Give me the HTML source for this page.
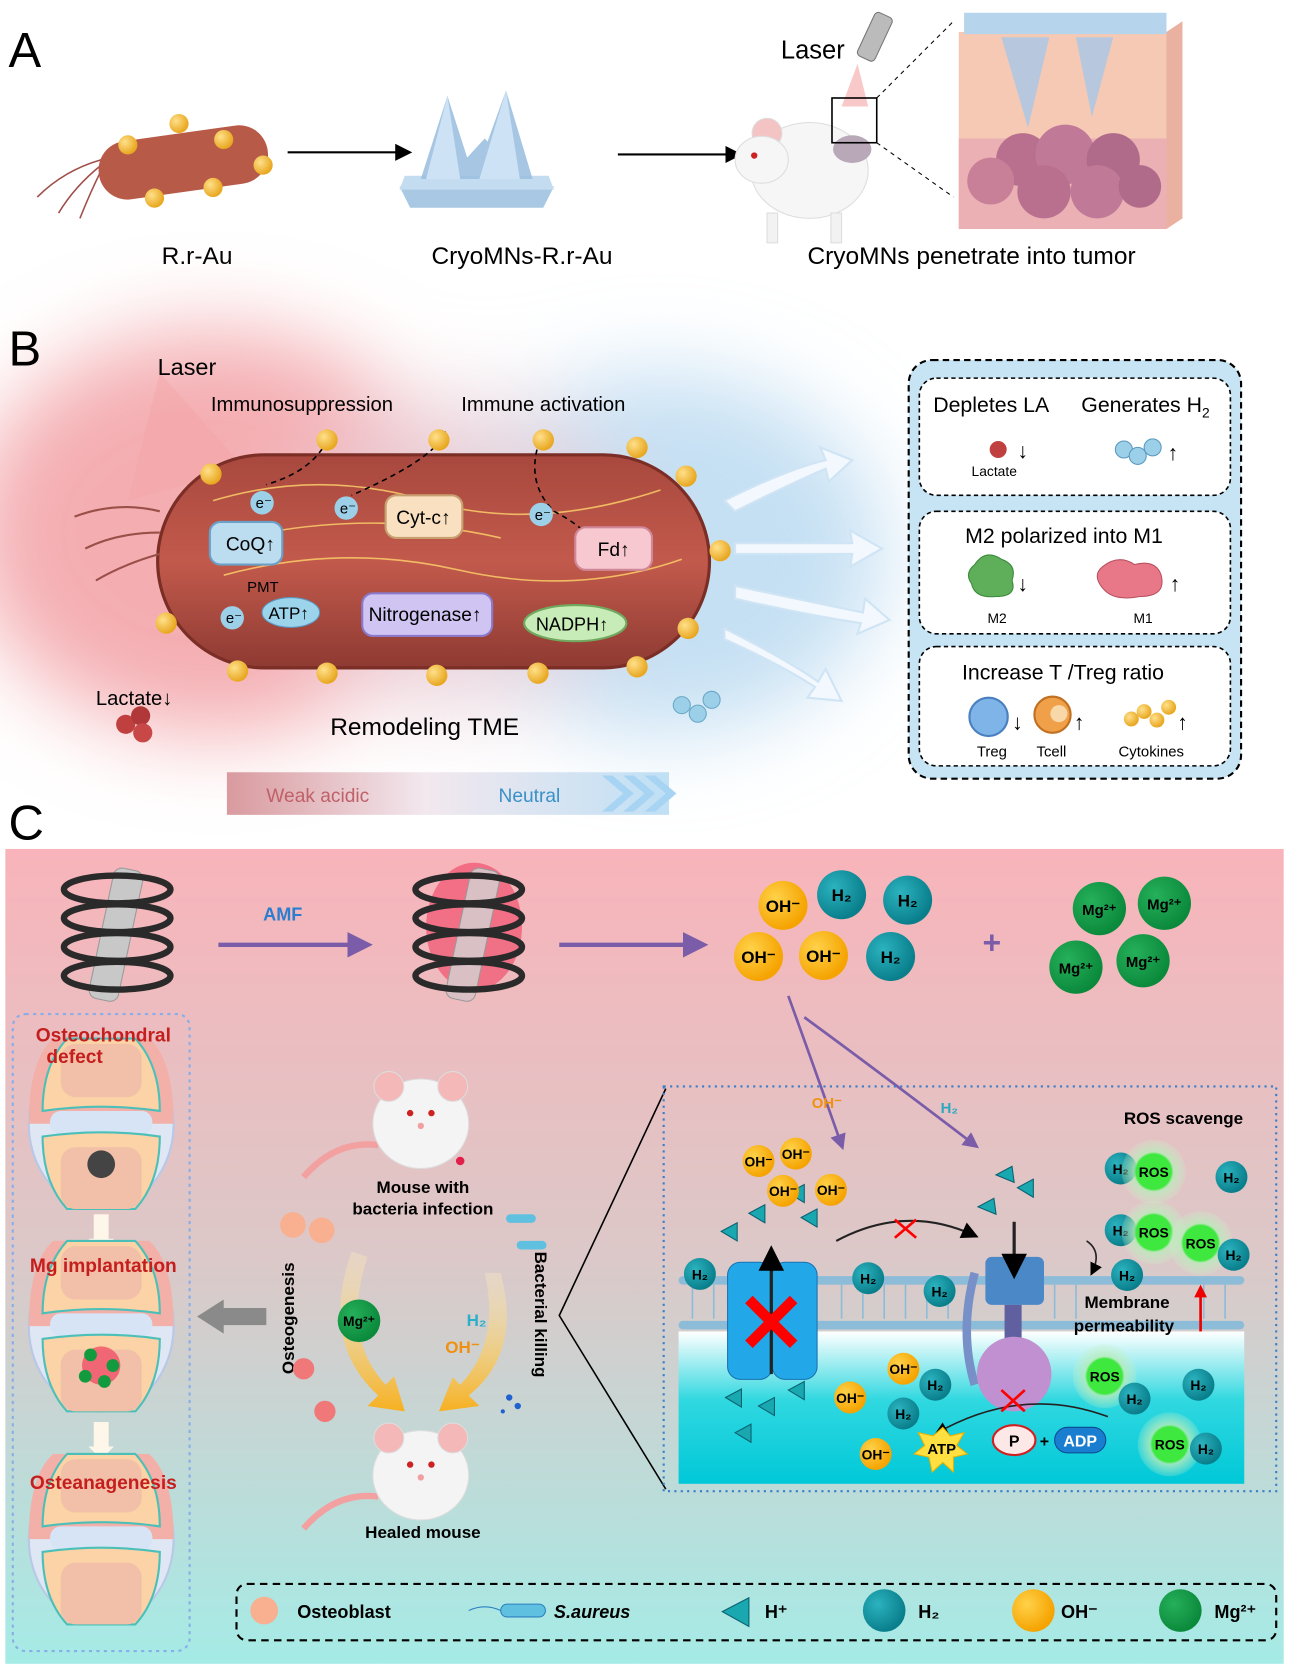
<!DOCTYPE html>
<html><head><meta charset="utf-8"><style>
html,body{margin:0;padding:0;background:#fff;}
svg{display:block;font-family:"Liberation Sans",Arial,sans-serif;}
</style></head><body>
<svg width="1289" height="1667" viewBox="0 0 1210 1565" preserveAspectRatio="none" xmlns="http://www.w3.org/2000/svg">
<defs>
<radialGradient id="gold" cx="35%" cy="35%" r="65%"><stop offset="0" stop-color="#ffe08a"/><stop offset="1" stop-color="#e8a720"/></radialGradient>
<radialGradient id="oh" cx="35%" cy="35%" r="65%"><stop offset="0" stop-color="#ffd24a"/><stop offset="1" stop-color="#f5a300"/></radialGradient>
<radialGradient id="h2" cx="35%" cy="35%" r="65%"><stop offset="0" stop-color="#2bb3bf"/><stop offset="1" stop-color="#0a7f8c"/></radialGradient>
<radialGradient id="mg" cx="35%" cy="35%" r="65%"><stop offset="0" stop-color="#26b05a"/><stop offset="1" stop-color="#0b8a3c"/></radialGradient>
<radialGradient id="ros" cx="50%" cy="50%" r="50%"><stop offset="0.55" stop-color="#3ee83e"/><stop offset="0.62" stop-color="#b8ecb8" stop-opacity="0.8"/><stop offset="1" stop-color="#c8f0c8" stop-opacity="0.2"/></radialGradient>
<linearGradient id="cbg" x1="0" y1="0" x2="0" y2="1"><stop offset="0" stop-color="#f8b4ba"/><stop offset="0.5" stop-color="#dcc8c8"/><stop offset="1" stop-color="#a5ebe6"/></linearGradient>
<filter id="blur" x="-50%" y="-50%" width="200%" height="200%"><feGaussianBlur stdDeviation="40"/></filter>
<linearGradient id="bact" x1="0" y1="0" x2="0" y2="1"><stop offset="0" stop-color="#a8483e"/><stop offset="0.5" stop-color="#c25a4c"/><stop offset="1" stop-color="#8e3a32"/></linearGradient>
<linearGradient id="bar" x1="0" y1="0" x2="1" y2="0"><stop offset="0" stop-color="#d99a9e"/><stop offset="0.45" stop-color="#f2e8ee"/><stop offset="1" stop-color="#bfe0f5"/></linearGradient>
<linearGradient id="cyto" x1="0" y1="0" x2="0" y2="1"><stop offset="0" stop-color="#ffffff"/><stop offset="0.45" stop-color="#30d8e0"/><stop offset="1" stop-color="#00c8d8"/></linearGradient>
<linearGradient id="yarr" x1="0" y1="0" x2="0" y2="1"><stop offset="0" stop-color="#fff0c0" stop-opacity="0.3"/><stop offset="1" stop-color="#f7b020"/></linearGradient>
<marker id="ah" markerWidth="8" markerHeight="8" refX="6" refY="4" orient="auto"><path d="M0,0L8,4L0,8z" fill="#000"/></marker>
<marker id="ahp" markerWidth="6" markerHeight="6" refX="4" refY="3" orient="auto"><path d="M0,0L6,3L0,6z" fill="#7a5ca8"/></marker>
<g id="joint">
 <ellipse cx="0" cy="0" rx="68" ry="80" fill="#dfe7f4" stroke="#b9c8e6" stroke-width="2"/>
 <path d="M-68,0 Q-68,-60 -45,-80 L45,-80 Q68,-60 68,0 Z" fill="#f3b0a8"/>
 <path d="M-55,-12 Q-55,-55 -32,-80 L32,-80 Q55,-55 55,-12 Q0,-20 -55,-12Z" fill="#fbd3a6" stroke="#4cc0b8" stroke-width="2"/>
 <rect x="-48" y="-12" width="96" height="22" rx="10" fill="#d6e4f6"/>
 <path d="M-55,12 Q0,4 55,12 Q55,55 32,80 L-32,80 Q-55,55 -55,12Z" fill="#fbd3a6" stroke="#4cc0b8" stroke-width="2"/>
 <rect x="-38" y="22" width="76" height="58" rx="14" fill="#f2c0a8"/>
 <rect x="-38" y="-75" width="76" height="50" rx="14" fill="#f2c0a8"/>
</g>
<g id="mouse">
 <path d="M-40,30 Q-80,25 -110,60" stroke="#f2a0a0" stroke-width="6" fill="none"/>
 <ellipse cx="0" cy="10" rx="45" ry="42" fill="#f4f4f4" stroke="#ddd"/>
 <circle cx="-30" cy="-25" r="14" fill="#f4b8b8" stroke="#ddd"/>
 <circle cx="30" cy="-25" r="14" fill="#f4b8b8" stroke="#ddd"/>
 <circle cx="-10" cy="0" r="3" fill="#c22"/><circle cx="10" cy="0" r="3" fill="#c22"/>
 <circle cx="0" cy="12" r="3" fill="#f0a0a0"/>
</g>
</defs>

<rect width="1210" height="1565" fill="#fff"/>

<!-- A -->
<text x="8" y="63" font-size="46">A</text>
<g>
 <path d="M95,150 Q60,160 35,185 M95,155 Q70,175 55,200 M95,160 Q85,180 75,205" stroke="#a0504a" stroke-width="1.5" fill="none"/>
 <rect x="92" y="125" width="160" height="55" rx="27" fill="#b85a48" transform="rotate(-8 172 152)"/>
 <circle cx="120" cy="136" r="9" fill="url(#gold)"/><circle cx="168" cy="116" r="9" fill="url(#gold)"/><circle cx="210" cy="131" r="9" fill="url(#gold)"/>
 <circle cx="247" cy="155" r="9" fill="url(#gold)"/><circle cx="200" cy="176" r="9" fill="url(#gold)"/><circle cx="145" cy="186" r="9" fill="url(#gold)"/>
</g>
<line x1="270" y1="143" x2="383" y2="143" stroke="#000" stroke-width="2" marker-end="url(#ah)"/>
<g>
 <path d="M375,175 L520,175 L510,195 L385,195 Z" fill="#a8c8e4"/>
 <path d="M380,165 L515,165 L520,178 L375,178 Z" fill="#c4dcf0"/>
 <path d="M395,168 L420,90 L445,168Z M445,168 L475,85 L500,168Z M455,130 L490,168 L420,168Z" fill="#9cc0e0" opacity="0.9"/>
 <path d="M400,168 L420,90 L432,168Z M450,168 L475,85 L488,168Z" fill="#cde2f4"/>
</g>
<line x1="580" y1="145" x2="693" y2="145" stroke="#000" stroke-width="2" marker-end="url(#ah)"/>
<text x="733" y="55" font-size="24">Laser</text>
<rect x="812" y="12" width="18" height="45" rx="4" fill="#bbb" stroke="#777" transform="rotate(25 821 35)"/>
<path d="M805,60 L790,100 L815,100Z" fill="#f6b0b0" opacity="0.7"/>
<g transform="translate(760,160)">
 <ellipse cx="0" cy="0" rx="55" ry="45" fill="#f6f6f6" stroke="#ddd"/>
 <circle cx="-40" cy="-35" r="14" fill="#f4c4c4" stroke="#ddd"/>
 <ellipse cx="-45" cy="-10" rx="25" ry="22" fill="#f6f6f6" stroke="#ddd"/>
 <circle cx="-52" cy="-14" r="3" fill="#c22"/>
 <rect x="-40" y="40" width="10" height="28" fill="#f2f2f2" stroke="#ddd"/>
 <rect x="20" y="40" width="10" height="28" fill="#f2f2f2" stroke="#ddd"/>
 <ellipse cx="40" cy="-20" rx="18" ry="13" fill="#b8a8b8"/>
</g>
<rect x="781" y="92" width="42" height="42" fill="none" stroke="#000" stroke-width="1.5"/>
<line x1="823" y1="92" x2="895" y2="20" stroke="#000" stroke-dasharray="4 4"/>
<line x1="823" y1="134" x2="895" y2="185" stroke="#000" stroke-dasharray="4 4"/>
<g>
 <rect x="900" y="30" width="195" height="185" fill="#f5c9b4"/>
 <path d="M1095,30 L1110,20 L1110,205 L1095,215Z" fill="#eab0a0"/>
 <rect x="905" y="12" width="190" height="20" fill="#b6d4ec"/>
 <rect x="900" y="130" width="195" height="85" fill="#eab0b4"/>
 <path d="M940,35 L965,120 L985,35Z M1010,35 L1025,110 L1045,35Z" fill="#a8c8e8" opacity="0.8"/>
 <circle cx="960" cy="150" r="25" fill="#b8708e"/><circle cx="1000" cy="145" r="28" fill="#c07a98"/><circle cx="1045" cy="150" r="25" fill="#b06a8a"/>
 <circle cx="930" cy="170" r="22" fill="#c88098"/><circle cx="980" cy="180" r="25" fill="#b8708e"/><circle cx="1030" cy="180" r="25" fill="#c07a98"/><circle cx="1070" cy="175" r="20" fill="#b06a8a"/>
</g>
<text x="185" y="248" font-size="23" text-anchor="middle">R.r-Au</text>
<text x="490" y="248" font-size="23" text-anchor="middle">CryoMNs-R.r-Au</text>
<text x="912" y="248" font-size="23" text-anchor="middle">CryoMNs penetrate into tumor</text>

<!-- B -->
<g filter="url(#blur)">
 <ellipse cx="620" cy="520" rx="210" ry="170" fill="#b6d8f0" opacity="0.8"/>
 <ellipse cx="200" cy="500" rx="230" ry="190" fill="#f2a0a4" opacity="0.85"/>
 <ellipse cx="430" cy="520" rx="160" ry="150" fill="#ead0d8" opacity="0.8"/>
</g>
<text x="8" y="343" font-size="46">B</text>
<path d="M150,350 L230,440 L120,470Z" fill="#f4a0a0" opacity="0.35"/>
<text x="148" y="352" font-size="22">Laser</text>
<text x="198" y="386" font-size="19">Immunosuppression</text>
<text x="433" y="386" font-size="19">Immune activation</text>
<rect x="148" y="427" width="518" height="200" rx="100" fill="url(#bact)" stroke="#7a2e26" stroke-width="3"/>
<path d="M200,470 Q300,440 400,470 T620,460 M210,540 Q320,510 430,535 T640,525 M250,500 Q360,480 470,505" stroke="#ffd36a" stroke-width="1.5" fill="none" opacity="0.8"/>
<path d="M150,480 Q110,470 70,485 M150,500 Q110,500 80,515 M150,520 Q115,530 90,545" stroke="#9a5048" stroke-width="2" fill="none"/>
<path d="M310,405 Q300,440 250,455 M418,405 Q410,430 330,465 M510,405 Q490,450 520,480 Q540,490 555,505" stroke="#000" stroke-width="1.5" stroke-dasharray="5 4" fill="none"/>
<g fill="url(#gold)">
<circle cx="198" cy="445" r="10"/><circle cx="307" cy="413" r="10"/><circle cx="412" cy="413" r="10"/><circle cx="510" cy="413" r="10"/><circle cx="598" cy="420" r="10"/><circle cx="644" cy="447" r="10"/><circle cx="676" cy="517" r="10"/><circle cx="156" cy="585" r="10"/><circle cx="223" cy="630" r="10"/><circle cx="307" cy="632" r="10"/><circle cx="410" cy="634" r="10"/><circle cx="505" cy="632" r="10"/><circle cx="598" cy="626" r="10"/><circle cx="646" cy="590" r="10"/>
</g>
<g font-size="14" fill="#000">
<circle cx="246" cy="472" r="11" fill="#9cd0e8"/><text x="240" y="477">e⁻</text>
<circle cx="325" cy="477" r="11" fill="#9cd0e8"/><text x="319" y="482">e⁻</text>
<circle cx="508" cy="483" r="11" fill="#9cd0e8"/><text x="502" y="488">e⁻</text>
<circle cx="218" cy="580" r="11" fill="#9cd0e8"/><text x="212" y="585">e⁻</text>
</g>
<rect x="197" y="490" width="68" height="40" rx="10" fill="#bcdcf0" stroke="#6aa0c8" stroke-width="2"/><text x="212" y="517" font-size="18">CoQ↑</text>
<rect x="362" y="465" width="72" height="40" rx="10" fill="#f8e0c0" stroke="#c8a070" stroke-width="2"/><text x="372" y="492" font-size="18">Cyt-c↑</text>
<rect x="540" y="495" width="72" height="40" rx="10" fill="#f8c8d0" stroke="#d08898" stroke-width="2"/><text x="561" y="522" font-size="18">Fd↑</text>
<text x="232" y="556" font-size="14">PMT</text>
<ellipse cx="273" cy="575" rx="27" ry="14" fill="#9cd4ec" stroke="#5a98c0"/><text x="252" y="581" font-size="16">ATP↑</text>
<rect x="340" y="557" width="122" height="40" rx="10" fill="#d0c4f2" stroke="#8a78c8" stroke-width="2"/><text x="346" y="583" font-size="18">Nitrogenase↑</text>
<ellipse cx="540" cy="585" rx="48" ry="17" fill="#c8ecb8" stroke="#70a860" stroke-width="2"/><text x="503" y="592" font-size="17">NADPH↑</text>
<text x="90" y="662" font-size="19">Lactate↓</text>
<circle cx="118" cy="680" r="9" fill="#c04040"/><circle cx="132" cy="672" r="9" fill="#b03838"/><circle cx="134" cy="688" r="9" fill="#c84848"/>
<text x="310" y="690" font-size="23">Remodeling TME</text>
<g fill="#9cd0e8" stroke="#6aa8c8"><circle cx="640" cy="662" r="8"/><circle cx="655" cy="670" r="8"/><circle cx="668" cy="657" r="8"/></g>
<g fill="#f2f8fd" stroke="#cfe4f4" stroke-width="2">
<path d="M680,470 Q740,440 775,432 L770,420 L800,432 L778,452 L775,440 Q740,455 690,480Z"/>
<path d="M690,510 L800,510 L798,498 L828,515 L798,532 L800,520 L690,520Z"/>
<path d="M690,550 Q760,565 810,575 L812,562 L835,582 L805,595 L808,585 Q760,578 690,562Z"/>
<path d="M680,590 Q740,620 768,640 L775,628 L790,658 L758,655 L765,645 Q735,625 680,600Z"/>
</g>
<rect x="213" y="725" width="415" height="40" fill="url(#bar)"/>
<text x="250" y="753" font-size="18" fill="#c06068">Weak acidic</text>
<text x="468" y="753" font-size="18" fill="#3a90c8">Neutral</text>
<path d="M565,728 L585,745 L565,762 L575,762 L595,745 L575,728Z M585,728 L605,745 L585,762 L595,762 L615,745 L595,728Z M605,728 L625,745 L605,762 L615,762 L635,745 L615,728Z" fill="#a8d4f4"/>

<rect x="853" y="338" width="312" height="393" rx="22" fill="#c6e4f4" stroke="#000" stroke-width="2" stroke-dasharray="6 4"/>
<rect x="863" y="355" width="292" height="110" rx="16" fill="#fff" stroke="#000" stroke-width="1.5" stroke-dasharray="4 3"/>
<rect x="863" y="480" width="292" height="115" rx="16" fill="#fff" stroke="#000" stroke-width="1.5" stroke-dasharray="4 3"/>
<rect x="863" y="607" width="292" height="112" rx="16" fill="#fff" stroke="#000" stroke-width="1.5" stroke-dasharray="4 3"/>
<text x="876" y="387" font-size="20">Depletes LA</text>
<text x="1015" y="387" font-size="20">Generates H<tspan font-size="13" dy="5">2</tspan></text>
<circle cx="937" cy="422" r="8" fill="#c04040"/><text x="955" y="430" font-size="20">↓</text>
<text x="912" y="447" font-size="13">Lactate</text>
<g fill="#9cd0e8" stroke="#5a98c0"><circle cx="1055" cy="422" r="8"/><circle cx="1068" cy="428" r="8"/><circle cx="1082" cy="420" r="8"/></g>
<text x="1096" y="432" font-size="20">↑</text>
<text x="906" y="510" font-size="20">M2 polarized into M1</text>
<path d="M915,530 Q925,515 940,525 Q955,530 950,545 Q955,560 935,560 Q915,562 912,548 Q905,538 915,530Z" fill="#5fae5a" stroke="#3a8a38"/>
<text x="955" y="555" font-size="20">↓</text><text x="927" y="585" font-size="13">M2</text>
<path d="M1035,532 Q1050,520 1065,530 Q1085,525 1090,540 Q1095,560 1070,560 Q1045,565 1035,552 Q1025,540 1035,532Z" fill="#e87888" stroke="#b85060"/>
<text x="1098" y="555" font-size="20">↑</text><text x="1064" y="585" font-size="13">M1</text>
<text x="903" y="638" font-size="20">Increase T /Treg ratio</text>
<circle cx="928" cy="673" r="18" fill="#7eb4e8" stroke="#4a80c0" stroke-width="2"/><text x="950" y="685" font-size="20">↓</text>
<circle cx="988" cy="671" r="17" fill="#f0a048" stroke="#c07020" stroke-width="2"/><circle cx="994" cy="670" r="8" fill="#f8d8a8"/><text x="1008" y="685" font-size="20">↑</text>
<g fill="url(#gold)"><circle cx="1062" cy="675" r="7"/><circle cx="1074" cy="668" r="7"/><circle cx="1086" cy="676" r="7"/><circle cx="1097" cy="664" r="7"/></g>
<text x="1105" y="685" font-size="20">↑</text>
<text x="917" y="710" font-size="14">Treg</text><text x="973" y="710" font-size="14">Tcell</text><text x="1050" y="710" font-size="14">Cytokines</text>

<!-- C -->
<text x="8" y="788" font-size="46">C</text>
<rect x="5" y="797" width="1200" height="765" fill="url(#cbg)"/>
<g>
<rect x="95" y="815" width="28" height="125" rx="8" fill="#c8c8c8" stroke="#999" transform="rotate(12 109 877)"/>
<g fill="none" stroke="#2a2a2a" stroke-width="6">
<ellipse cx="110" cy="835" rx="50" ry="13"/><ellipse cx="110" cy="862" rx="50" ry="13"/><ellipse cx="110" cy="889" rx="50" ry="13"/><ellipse cx="110" cy="916" rx="50" ry="13"/>
</g>
</g>
<line x1="205" y1="887" x2="342" y2="887" stroke="#7a5ca8" stroke-width="4" marker-end="url(#ahp)"/>
<text x="247" y="864" font-size="17" fill="#2a7ed0" font-weight="bold">AMF</text>
<g>
<ellipse cx="445" cy="870" rx="45" ry="60" fill="#f04060" opacity="0.6"/>
<rect x="430" y="815" width="28" height="125" rx="8" fill="#d8c0c4" stroke="#999" transform="rotate(12 444 877)"/>
<g fill="none" stroke="#2a2a2a" stroke-width="6">
<ellipse cx="440" cy="835" rx="50" ry="13"/><ellipse cx="440" cy="862" rx="50" ry="13"/><ellipse cx="440" cy="889" rx="50" ry="13"/><ellipse cx="440" cy="916" rx="50" ry="13"/>
</g>
</g>
<line x1="525" y1="887" x2="657" y2="887" stroke="#7a5ca8" stroke-width="4" marker-end="url(#ahp)"/>
<g font-size="16" font-weight="bold" text-anchor="middle">
<circle cx="735" cy="850" r="23" fill="url(#oh)"/><text x="735" y="856">OH⁻</text>
<circle cx="712" cy="898" r="23" fill="url(#oh)"/><text x="712" y="904">OH⁻</text>
<circle cx="773" cy="897" r="23" fill="url(#oh)"/><text x="773" y="903">OH⁻</text>
<circle cx="790" cy="840" r="23" fill="url(#h2)"/><text x="790" y="846">H₂</text>
<circle cx="852" cy="845" r="23" fill="url(#h2)"/><text x="852" y="851">H₂</text>
<circle cx="836" cy="898" r="23" fill="url(#h2)"/><text x="836" y="904">H₂</text>
<text x="931" y="895" font-size="30" fill="#7a5ca8">+</text>
<g font-size="14">
<circle cx="1032" cy="853" r="25" fill="url(#mg)"/><text x="1032" y="859">Mg²⁺</text>
<circle cx="1093" cy="848" r="25" fill="url(#mg)"/><text x="1093" y="854">Mg²⁺</text>
<circle cx="1010" cy="908" r="25" fill="url(#mg)"/><text x="1010" y="914">Mg²⁺</text>
<circle cx="1073" cy="902" r="25" fill="url(#mg)"/><text x="1073" y="908">Mg²⁺</text>
</g>
</g>
<path d="M740,935 Q760,990 790,1075" stroke="#7a5ca8" stroke-width="2.5" fill="none" marker-end="url(#ahp)"/>
<path d="M755,955 Q830,1010 915,1075" stroke="#7a5ca8" stroke-width="2.5" fill="none" marker-end="url(#ahp)"/>
<text x="762" y="1040" font-size="14" fill="#f09010" font-weight="bold">OH⁻</text>
<text x="883" y="1045" font-size="14" fill="#2aa8c0" font-weight="bold">H₂</text>

<rect x="12" y="952" width="166" height="598" rx="12" fill="none" stroke="#88aee8" stroke-width="2" stroke-dasharray="3 4"/>
<use href="#joint" x="95" y="1055"/>
<circle cx="95" cy="1093" r="13" fill="#444"/>
<rect x="88" y="1140" width="14" height="25" fill="#fff6ea"/><path d="M83,1163 L107,1163 L95,1175Z" fill="#fff6ea"/>
<use href="#joint" x="95" y="1245"/>
<circle cx="95" cy="1282" r="18" fill="#f04060" opacity="0.7"/>
<g fill="#129a3e"><circle cx="85" cy="1272" r="6"/><circle cx="106" cy="1282" r="6"/><circle cx="80" cy="1292" r="6"/><circle cx="98" cy="1297" r="6"/></g>
<rect x="88" y="1335" width="14" height="25" fill="#fff6ea"/><path d="M83,1358 L107,1358 L95,1370Z" fill="#fff6ea"/>
<use href="#joint" x="95" y="1445"/>
<g font-size="18" font-weight="bold" fill="#c41e1e" text-anchor="middle">
<text x="97" y="978">Osteochondral</text><text x="70" y="998">defect</text>
<text x="97" y="1194">Mg implantation</text>
<text x="97" y="1398">Osteanagenesis</text>
</g>
<path d="M250,1228 L210,1228 L210,1220 L185,1236 L210,1252 L210,1244 L250,1244Z" fill="#8a8a8a"/>
<use href="#mouse" x="395" y="1045"/>
<circle cx="432" cy="1090" r="4" fill="#e0204a"/>
<text x="397" y="1120" font-size="16" font-weight="bold" text-anchor="middle">Mouse with</text>
<text x="397" y="1140" font-size="16" font-weight="bold" text-anchor="middle">bacteria infection</text>
<use href="#mouse" x="395" y="1375"/>
<text x="397" y="1444" font-size="16" font-weight="bold" text-anchor="middle">Healed mouse</text>
<path d="M330,1175 Q300,1260 355,1310 L345,1320 L380,1325 L370,1292 L362,1300 Q320,1255 345,1180Z" fill="url(#yarr)"/>
<path d="M470,1195 Q490,1270 440,1310 L450,1320 L412,1325 L425,1293 L432,1300 Q470,1260 455,1195Z" fill="url(#yarr)"/>
<circle cx="337" cy="1240" r="20" fill="url(#mg)"/><text x="337" y="1245" font-size="13" font-weight="bold" text-anchor="middle">Mg²⁺</text>
<text x="438" y="1245" font-size="16" font-weight="bold" fill="#2ab0c8">H₂</text>
<text x="418" y="1270" font-size="16" font-weight="bold" fill="#f09010">OH⁻</text>
<text transform="translate(276,1290) rotate(-90)" font-size="16" font-weight="bold">Osteogenesis</text>
<text transform="translate(502,1175) rotate(90)" font-size="16" font-weight="bold">Bacterial killing</text>
<circle cx="275" cy="1150" r="12" fill="#f8b090"/><circle cx="302" cy="1155" r="12" fill="#f8b090"/>
<circle cx="285" cy="1285" r="10" fill="#f07878"/><circle cx="305" cy="1325" r="10" fill="#f07878"/>
<rect x="475" y="1140" width="28" height="8" rx="4" fill="#60c0e0"/><rect x="485" y="1165" width="28" height="8" rx="4" fill="#60c0e0"/>
<g fill="#2060d0"><circle cx="478" cy="1312" r="3"/><circle cx="486" cy="1320" r="3"/><circle cx="472" cy="1325" r="2"/></g>
<polyline points="625,1022 525,1235 625,1398" fill="none" stroke="#000" stroke-width="1.5"/>
<rect x="637" y="1250" width="531" height="143" fill="url(#cyto)"/>
<g fill="#8cbcd8"><rect x="637" y="1198" width="531" height="8" rx="4"/><rect x="637" y="1240" width="531" height="8" rx="4"/></g>
<g stroke="#8cbcd8" stroke-width="1.5"><path d="M650,1206 V1238 M670,1206 V1238 M690,1206 V1238 M790,1206 V1238 M810,1206 V1238 M830,1206 V1238 M850,1206 V1238 M870,1206 V1238 M890,1206 V1238 M990,1206 V1238 M1010,1206 V1238 M1130,1206 V1238 M1150,1206 V1238"/></g>
<rect x="623" y="1020" width="575" height="380" fill="none" stroke="#3a7ec8" stroke-width="2" stroke-dasharray="2 4"/>
<text x="1055" y="1055" font-size="16" font-weight="bold">ROS scavenge</text>
<rect x="683" y="1185" width="42" height="110" rx="12" fill="#22a8e8" stroke="#1a70b0"/>
<rect x="725" y="1185" width="42" height="110" rx="12" fill="#22a8e8" stroke="#1a70b0"/>
<line x1="724" y1="1290" x2="724" y2="1175" stroke="#222" stroke-width="3" marker-end="url(#ah)"/>
<path d="M703,1220 L745,1262 M745,1220 L703,1262" stroke="#f00" stroke-width="10"/>
<path d="M785,1165 Q850,1130 915,1160" stroke="#222" stroke-width="2" fill="none" marker-end="url(#ah)"/>
<path d="M840,1145 L860,1162 M860,1145 L840,1162" stroke="#f00" stroke-width="2.5"/>
<rect x="925" y="1180" width="55" height="45" rx="6" fill="#4a88c8"/>
<rect x="943" y="1225" width="16" height="35" fill="#6060a0"/>
<path d="M915,1195 Q900,1250 915,1300" stroke="#7890c8" stroke-width="8" fill="none"/>
<ellipse cx="952" cy="1290" rx="35" ry="35" fill="#c090d0"/>
<line x1="952" y1="1147" x2="952" y2="1195" stroke="#222" stroke-width="3" marker-end="url(#ah)"/>
<path d="M1040,1330 Q960,1300 880,1345" stroke="#222" stroke-width="1.5" fill="none" marker-end="url(#ah)"/>
<path d="M940,1305 L962,1325 M962,1305 L940,1325" stroke="#f00" stroke-width="2.5"/>
<path d="M1020,1165 Q1035,1175 1025,1195" stroke="#222" stroke-width="1.5" fill="none" marker-end="url(#ah)"/>
<polygon points="885,1340 892,1348 905,1345 898,1357 908,1365 895,1368 895,1382 885,1373 875,1382 872,1368 858,1365 868,1357 862,1345 876,1348" fill="#ffe040" stroke="#e8b000"/>
<text x="884" y="1365" font-size="14" font-weight="bold" text-anchor="middle">ATP</text>
<ellipse cx="952" cy="1352" rx="20" ry="14" fill="#fde8e8" stroke="#d02020" stroke-width="2"/><text x="952" y="1358" font-size="15" font-weight="bold" text-anchor="middle">P</text>
<text x="976" y="1358" font-size="15" font-weight="bold">+</text>
<rect x="990" y="1340" width="48" height="24" rx="12" fill="#1a7ed0" stroke="#0a4a90"/><text x="1014" y="1358" font-size="15" font-weight="bold" fill="#fff" text-anchor="middle">ADP</text>
<text x="1018" y="1228" font-size="16" font-weight="bold">Membrane</text>
<text x="1008" y="1250" font-size="16" font-weight="bold">permeability</text>
<line x1="1127" y1="1250" x2="1127" y2="1215" stroke="#e00" stroke-width="2.5"/><path d="M1121,1218 L1127,1206 L1133,1218Z" fill="#e00"/>
<g fill="#1aa8b0" stroke="#0a6070" stroke-width="1">
<path d="M677,1156 L692,1148 L692,1165Z"/><path d="M703,1139 L718,1131 L718,1148Z"/><path d="M740,1120 L755,1112 L755,1129Z"/><path d="M752,1143 L767,1135 L767,1152Z"/>
<path d="M935,1103 L950,1095 L952,1110Z"/><path d="M955,1115 L970,1107 L970,1124Z"/><path d="M918,1133 L933,1125 L935,1140Z"/>
<path d="M681,1312 L696,1304 L696,1321Z"/><path d="M712,1320 L727,1312 L727,1329Z"/><path d="M740,1305 L755,1297 L755,1314Z"/><path d="M690,1345 L705,1337 L705,1354Z"/>
</g>
<g font-size="13" font-weight="bold" text-anchor="middle">
<circle cx="712" cy="1090" r="15" fill="url(#oh)"/><text x="712" y="1095">OH⁻</text>
<circle cx="747" cy="1083" r="15" fill="url(#oh)"/><text x="747" y="1088">OH⁻</text>
<circle cx="735" cy="1118" r="15" fill="url(#oh)"/><text x="735" y="1123">OH⁻</text>
<circle cx="780" cy="1117" r="15" fill="url(#oh)"/><text x="780" y="1122">OH⁻</text>
<circle cx="848" cy="1285" r="15" fill="url(#oh)"/><text x="848" y="1290">OH⁻</text>
<circle cx="798" cy="1312" r="15" fill="url(#oh)"/><text x="798" y="1317">OH⁻</text>
<circle cx="822" cy="1365" r="15" fill="url(#oh)"/><text x="822" y="1370">OH⁻</text>
<circle cx="657" cy="1196" r="15" fill="url(#h2)"/><text x="657" y="1201">H₂</text>
<circle cx="815" cy="1200" r="15" fill="url(#h2)"/><text x="815" y="1205">H₂</text>
<circle cx="882" cy="1212" r="15" fill="url(#h2)"/><text x="882" y="1217">H₂</text>
<circle cx="878" cy="1300" r="15" fill="url(#h2)"/><text x="878" y="1305">H₂</text>
<circle cx="848" cy="1327" r="15" fill="url(#h2)"/><text x="848" y="1332">H₂</text>
<circle cx="1058" cy="1197" r="15" fill="url(#h2)"/><text x="1058" y="1202">H₂</text>
<circle cx="1125" cy="1300" r="15" fill="url(#h2)"/><text x="1125" y="1305">H₂</text>
<circle cx="1156" cy="1105" r="15" fill="url(#h2)"/><text x="1156" y="1110">H₂</text>
<circle cx="1052" cy="1097" r="15" fill="url(#h2)"/><text x="1052" y="1102">H₂</text>
<circle cx="1052" cy="1155" r="15" fill="url(#h2)"/><text x="1052" y="1160">H₂</text>
<circle cx="1083" cy="1100" r="30" fill="url(#ros)"/><text x="1083" y="1105">ROS</text>
<circle cx="1083" cy="1157" r="30" fill="url(#ros)"/><text x="1083" y="1162">ROS</text>
<circle cx="1127" cy="1167" r="30" fill="url(#ros)"/><text x="1127" y="1172">ROS</text>
<circle cx="1158" cy="1178" r="15" fill="url(#h2)"/><text x="1158" y="1183">H₂</text>
<circle cx="1037" cy="1292" r="30" fill="url(#ros)"/><text x="1037" y="1297">ROS</text>
<circle cx="1065" cy="1313" r="15" fill="url(#h2)"/><text x="1065" y="1318">H₂</text>
<circle cx="1098" cy="1356" r="30" fill="url(#ros)"/><text x="1098" y="1361">ROS</text>
<circle cx="1132" cy="1360" r="15" fill="url(#h2)"/><text x="1132" y="1365">H₂</text>
</g>
<rect x="222" y="1487" width="976" height="53" rx="10" fill="none" stroke="#000" stroke-width="2" stroke-dasharray="7 5"/>
<g font-size="17" font-weight="bold">
<circle cx="248" cy="1512" r="13" fill="#f8b090"/><text x="279" y="1519">Osteoblast</text>
<path d="M440,1512 Q455,1505 470,1512" stroke="#2a80c0" fill="none"/><rect x="470" y="1506" width="42" height="12" rx="6" fill="#60c0e0" stroke="#2a80c0"/>
<text x="520" y="1519" font-style="italic">S.aureus</text>
<path d="M678,1513 L703,1500 L703,1527Z" fill="#1aa8b0" stroke="#0a6070"/><text x="718" y="1519">H⁺</text>
<circle cx="830" cy="1512" r="20" fill="url(#h2)"/><text x="862" y="1519">H₂</text>
<circle cx="970" cy="1512" r="20" fill="url(#oh)"/><text x="996" y="1519">OH⁻</text>
<circle cx="1108" cy="1512" r="20" fill="url(#mg)"/><text x="1140" y="1519">Mg²⁺</text>
</g>
</svg>
</body></html>
